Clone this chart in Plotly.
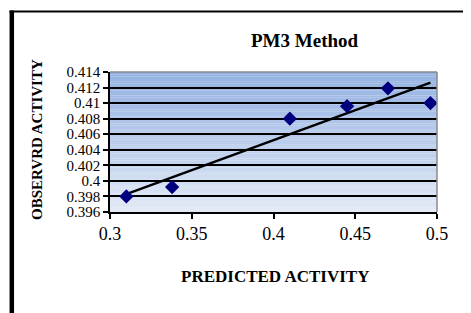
import numpy as np
import plotly.graph_objects as go

predicted = [0.310, 0.338, 0.410, 0.445, 0.470, 0.496]
observed = [0.3980, 0.3992, 0.4080, 0.4096, 0.4119, 0.4100]
x_ticks = [0.3, 0.35, 0.4, 0.45, 0.5]
x_tick_labels = ["0.3", "0.35", "0.4", "0.45", "0.5"]
y_ticks = [0.396, 0.398, 0.4, 0.402, 0.404, 0.406, 0.408, 0.41, 0.412, 0.414]
y_tick_labels = ["0.396", "0.398", "0.4", "0.402", "0.404", "0.406", "0.408", "0.41", "0.412", "0.414"]

slope, intercept = np.polyfit(predicted, observed, 1)
fit_x = [min(predicted), max(predicted)]
fit_y = [slope * v + intercept for v in fit_x]

# page has an 8px body offset; work in page pixels and convert
OFF = 8
W, H = 471, 313
L, R, T, B = 110 - OFF, W - (437 - OFF), 72 - OFF, H - (212 - OFF)
pw, ph = W - L - R, H - T - B

def px_x(p):
    return (p - OFF - L) / pw

def px_y(p):
    return (H - B - (p - OFF)) / ph

fig = go.Figure()
fig.add_trace(go.Scatter(x=fit_x, y=fit_y, mode="lines",
                         line=dict(color="black", width=2.5), showlegend=False, hoverinfo="skip"))
fig.add_trace(go.Scatter(x=predicted, y=observed, mode="markers",
                         marker=dict(symbol="diamond", size=11, color="#00007f"),
                         showlegend=False))

shapes = []
n = 60
top = np.array([0x93, 0xB1, 0xE2])
bot = np.array([0xE3, 0xEA, 0xF6])
for i in range(n):
    t = (i + 0.5) / n
    c = bot + (top - bot) * t
    shapes.append(dict(type="rect", xref="x domain", yref="y domain",
                       x0=0, x1=1, y0=i / n, y1=(i + 1) / n,
                       fillcolor="rgb(%d,%d,%d)" % tuple(c.astype(int)),
                       line=dict(width=0), layer="below"))
shapes.append(dict(type="line", xref="x domain", yref="y domain", x0=0, x1=1, y0=1, y1=1,
                   line=dict(color="#8a8a8a", width=1.5)))
shapes.append(dict(type="line", xref="x domain", yref="y domain", x0=1, x1=1, y0=0, y1=1,
                   line=dict(color="#8a8a8a", width=1.5)))
shapes.append(dict(type="line", xref="paper", yref="paper",
                   x0=px_x(11.8), x1=px_x(11.8), y0=px_y(10.5), y1=px_y(340),
                   line=dict(color="black", width=4.5)))
shapes.append(dict(type="line", xref="paper", yref="paper",
                   x0=px_x(9.5), x1=px_x(500), y0=px_y(11.5), y1=px_y(11.5),
                   line=dict(color="black", width=2)))

font_family = "Liberation Serif, Times New Roman, serif"
annotations = [
    dict(text="<b>PM3 Method</b>", xref="paper", yref="paper", x=px_x(304.5), y=px_y(41),
         xanchor="center", yanchor="middle", showarrow=False,
         font=dict(family=font_family, size=19, color="black")),
    dict(text="<b>PREDICTED ACTIVITY</b>", xref="paper", yref="paper", x=px_x(275), y=px_y(276),
         xanchor="center", yanchor="middle", showarrow=False,
         font=dict(family=font_family, size=17, color="black")),
    dict(text="<b>OBSERVRD ACTIVITY</b>", xref="paper", yref="paper", x=px_x(37), y=px_y(140),
         xanchor="center", yanchor="middle", showarrow=False, textangle=-90,
         font=dict(family=font_family, size=15, color="black")),
]

fig.update_layout(
    width=W, height=H,
    margin=dict(l=L, r=R, t=T, b=B),
    paper_bgcolor="white", plot_bgcolor="rgba(0,0,0,0)",
    shapes=shapes, annotations=annotations,
    font=dict(family=font_family, size=16, color="black"),
    xaxis=dict(range=[0.3, 0.5], tickvals=x_ticks, ticktext=x_tick_labels,
               showgrid=False, zeroline=False, showline=True, linecolor="black", linewidth=1.5,
               ticks="outside", ticklen=5, tickcolor="black", tickwidth=1.5,
               tickfont=dict(family=font_family, size=18, color="black")),
    yaxis=dict(range=[0.396, 0.414], tickvals=y_ticks, ticktext=y_tick_labels,
               showgrid=True, gridcolor="black", gridwidth=1.5, zeroline=False,
               showline=True, linecolor="black", linewidth=1.5,
               ticks="outside", ticklen=5, tickcolor="black", tickwidth=1.5,
               tickfont=dict(family=font_family, size=15, color="black")),
)

fig.write_html("out.html")
